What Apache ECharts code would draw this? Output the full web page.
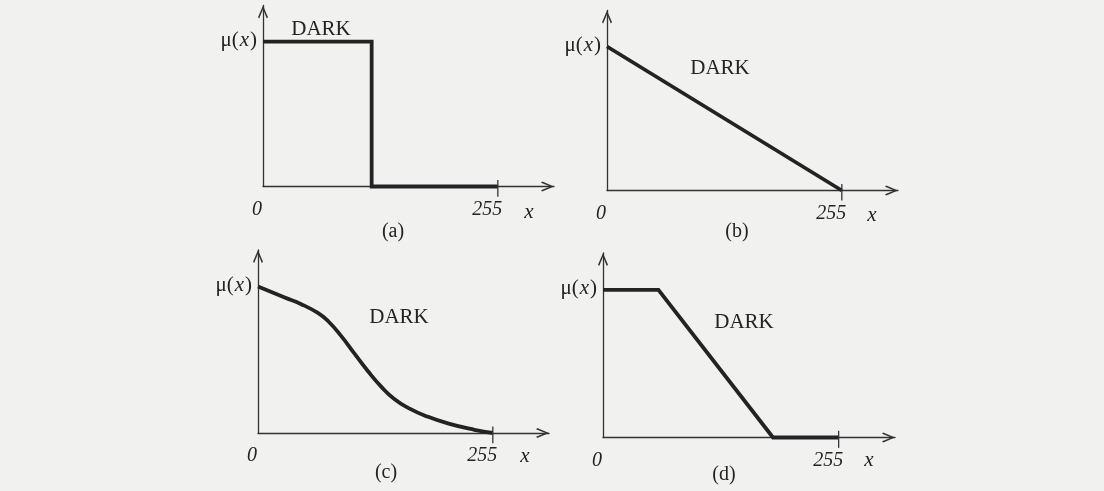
<!DOCTYPE html>
<html>
<head>
<meta charset="utf-8">
<title>DARK membership functions</title>
<script src="https://cdn.jsdelivr.net/npm/echarts@6/dist/echarts.min.js"></script>
<style>
  html, body { margin: 0; padding: 0; background: #f1f1f0; }
  #chart { width: 1104px; height: 491px; }
</style>
</head>
<body>
<div id="chart"></div>
<script>
// Membership functions mu(x) for the fuzzy set DARK over grey levels 0..255
const xTickValues = [0, 255];
const muTickValues = [1];

// (a) crisp step
const stepX  = [0, 118, 118, 255];
const stepMu = [1, 1, 0, 0];
// (b) linear ramp
const rampX  = [0, 255];
const rampMu = [1, 0];
// (c) smooth S-shaped decay
const curveX  = [0, 29, 47, 65, 76, 90, 105, 119, 134, 148, 163, 184, 206, 235, 255];
const curveMu = [1, 0.925, 0.88, 0.82, 0.765, 0.665, 0.54, 0.425, 0.315, 0.232, 0.172, 0.112, 0.066, 0.022, 0];
// (d) trapezoid shoulder
const trapX  = [0, 60, 184, 255];
const trapMu = [1, 1, 0, 0];

// small cross tick marking x = 255
const markTickX  = [255, 255];
const markTickMu = [-0.07, 0.045];

const captions = ['(a)', '(b)', '(c)', '(d)'];
const setName = 'DARK';

const zip = (xs, ys) => xs.map((v, i) => [v, ys[i]]);
const curves = [
  { data: zip(stepX, stepMu), smooth: false },
  { data: zip(rampX, rampMu), smooth: false },
  { data: zip(curveX, curveMu), smooth: 0.5 },
  { data: zip(trapX, trapMu), smooth: false }
];

const SERIF = '"Liberation Serif", "DejaVu Serif", serif';
const INK = '#232323';
const AXIS_INK = '#333333';
const chevron = 'path://M10 0 L20 23.5 L17.6 26 L10 7.5 L2.4 26 L0 23.5 Z';

const grids = [
  { left: 263, top: 5.5, width: 291, height: 181 },
  { left: 607, top: 10.5, width: 291, height: 180 },
  { left: 258, top: 250, width: 291, height: 183 },
  { left: 603, top: 253, width: 292, height: 184.5 }
];

// text placement per panel: DARK label, caption, axis name x
const textPos = [
  { dark: [321, 29], cap: [393, 232], name: [529, 212] },
  { dark: [720, 68], cap: [737, 232], name: [872, 215] },
  { dark: [399, 317], cap: [386, 473], name: [525, 456] },
  { dark: [744, 322], cap: [724, 475], name: [869, 460] }
];

const axisLineStyle = { color: AXIS_INK, width: 1.3 };

const xAxes = grids.map((g, i) => ({
  type: 'value', gridIndex: i, min: 0, max: 316,
  splitLine: { show: false },
  axisTick: { show: false },
  axisLine: {
    show: true, onZero: false, lineStyle: axisLineStyle,
    symbol: ['none', chevron], symbolSize: [10, 13], symbolOffset: [0, -6.5]
  },
  axisLabel: {
    customValues: xTickValues,
    margin: 13,
    formatter: v => (v === 0 ? '{z|0}' : '{t|' + v + '}'),
    rich: {
      z: { fontFamily: SERIF, fontStyle: 'italic', fontSize: 20, color: INK, padding: [0, 12, 0, 0] },
      t: { fontFamily: SERIF, fontStyle: 'italic', fontSize: 20, color: INK, padding: [0, 21, 0, 0] }
    }
  }
}));

const yAxes = grids.map((g, i) => ({
  type: 'value', gridIndex: i, min: 0, max: 1.25,
  splitLine: { show: false },
  axisTick: { show: false },
  axisLine: {
    show: true, onZero: false, lineStyle: axisLineStyle,
    symbol: ['none', chevron], symbolSize: [10, 13], symbolOffset: [0, -6.5]
  },
  axisLabel: {
    customValues: muTickValues,
    margin: 6,
    formatter: () => '{m|μ(}{i|x}{m|)}',
    rich: {
      m: { fontFamily: SERIF, fontSize: 21, color: INK, padding: [0, 0, 3, 0] },
      i: { fontFamily: SERIF, fontStyle: 'italic', fontSize: 21, color: INK, padding: [0, 1, 3, 1] }
    }
  }
}));

const series = [];
curves.forEach((c, i) => {
  series.push({
    type: 'line', xAxisIndex: i, yAxisIndex: i,
    data: c.data, smooth: c.smooth, showSymbol: false, clip: false,
    lineStyle: { color: INK, width: 3.8, join: 'miter', cap: 'butt' },
    silent: true, animation: false
  });
  series.push({
    type: 'line', xAxisIndex: i, yAxisIndex: i,
    data: zip(markTickX, markTickMu), showSymbol: false, clip: false,
    lineStyle: { color: AXIS_INK, width: 1.3 },
    silent: true, animation: false, z: 3
  });
});

const graphic = [];
textPos.forEach((p, i) => {
  graphic.push({
    type: 'text', x: p.dark[0], y: p.dark[1], silent: true,
    style: { text: setName, fill: INK, font: '21px ' + SERIF, align: 'center', verticalAlign: 'middle' }
  });
  graphic.push({
    type: 'text', x: p.cap[0], y: p.cap[1], silent: true,
    style: { text: captions[i], fill: INK, font: '20px ' + SERIF, align: 'center', verticalAlign: 'middle' }
  });
  graphic.push({
    type: 'text', x: p.name[0], y: p.name[1], silent: true,
    style: { text: 'x', fill: INK, font: 'italic 21px ' + SERIF, align: 'center', verticalAlign: 'middle' }
  });
});

const chart = echarts.init(document.getElementById('chart'), null, { renderer: 'canvas' });
chart.setOption({
  backgroundColor: '#f1f1f0',
  animation: false,
  grid: grids,
  xAxis: xAxes,
  yAxis: yAxes,
  series: series,
  graphic: graphic
});
</script>
</body>
</html>
